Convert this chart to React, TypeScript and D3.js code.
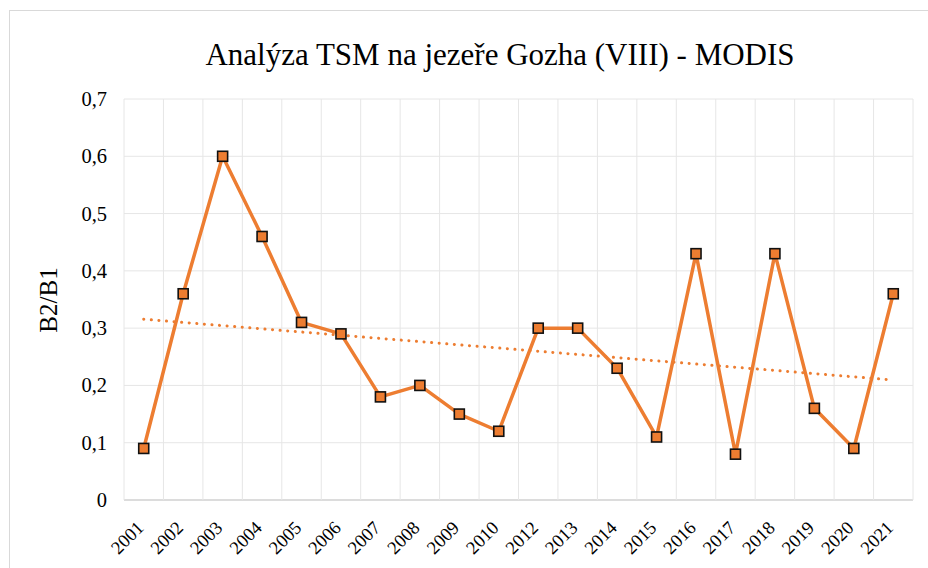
import React from "react";
import * as d3 from "d3";

const years = ["2001","2002","2003","2004","2005","2006","2007","2008","2009","2010","2012","2013","2014","2015","2016","2017","2018","2019","2020","2021"];
const values = [0.09,0.36,0.6,0.46,0.31,0.29,0.18,0.2,0.15,0.12,0.3,0.3,0.23,0.11,0.43,0.08,0.43,0.16,0.09,0.36];
const yTicks = [0,0.1,0.2,0.3,0.4,0.5,0.6,0.7];
const title = "Analýza TSM na jezeře Gozha (VIII) - MODIS";
const yLabel = "B2/B1";

const W = 928, H = 568;
const m = { left: 124, right: 913, top: 99, bottom: 500 };
const ORANGE = "#ED7D31";
const FONT = "'Liberation Serif', 'Times New Roman', serif";

export default function App() {
  const x = d3.scaleBand<string>().domain(years).range([m.left, m.right]);
  const y = d3.scaleLinear().domain([0, 0.7]).range([m.bottom, m.top]);
  const cx = (d: string) => (x(d) as number) + x.bandwidth() / 2;

  // linear trend (least squares on category index)
  const n = values.length;
  const idx = values.map((_, i) => i + 1);
  const mx = d3.mean(idx) as number;
  const my = d3.mean(values) as number;
  const slope = d3.sum(idx.map((v, i) => (v - mx) * (values[i] - my))) / d3.sum(idx.map(v => (v - mx) ** 2));
  const icpt = my - slope * mx;
  const t0 = icpt + slope * 1;
  const t1 = icpt + slope * n;

  const line = d3.line<number>().x((_, i) => cx(years[i])).y(d => y(d));
  const boundaries = years.map(d => x(d) as number).concat([m.right]);

  return (
    <svg width={W} height={H} style={{ position: "absolute", left: 0, top: 0 }}>
      <rect x={0} y={0} width={W} height={H} fill="#fff" />
      <rect x={9.5} y={10.5} width={W + 10} height={H + 10} fill="#fff" stroke="#d9d9d9" strokeWidth={1} />
      <text x={500} y={65} textAnchor="middle" fontFamily={FONT} fontSize={31} fill="#000">{title}</text>
      {/* grid */}
      {yTicks.map(t => (
        <line key={"h" + t} x1={m.left} x2={m.right} y1={y(t)} y2={y(t)} stroke={t === 0 ? "#d0d0d0" : "#e6e6e6"} strokeWidth={t === 0 ? 1.5 : 1} />
      ))}
      {boundaries.map((b, i) => (
        <line key={"v" + i} x1={b} x2={b} y1={m.top} y2={m.bottom} stroke="#e6e6e6" strokeWidth={1} />
      ))}
      {/* y tick labels */}
      {yTicks.map(t => (
        <text key={"yt" + t} x={107} y={y(t) + 7} textAnchor="end" fontFamily={FONT} fontSize={20.5} fill="#000">
          {t === 0 ? "0" : d3.format(".1f")(t).replace(".", ",")}
        </text>
      ))}
      <text transform={`translate(57,300) rotate(-90)`} textAnchor="middle" fontFamily={FONT} fontSize={25} fill="#000">{yLabel}</text>
      {/* x tick labels */}
      {years.map(d => (
        <text key={"xt" + d} transform={`translate(${cx(d) + 1},${m.bottom + 29}) rotate(-45)`} textAnchor="end" fontFamily={FONT} fontSize={18.5} fill="#000">{d}</text>
      ))}
      {/* trend */}
      <line x1={cx(years[0])} x2={cx(years[n - 1])} y1={y(t0)} y2={y(t1)} stroke={ORANGE} strokeWidth={3} strokeDasharray="0.1 7.5" strokeLinecap="round" />
      {/* series */}
      <path d={line(values) as string} fill="none" stroke={ORANGE} strokeWidth={3.5} strokeLinejoin="round" />
      {values.map((v, i) => (
        <rect key={"p" + i} x={cx(years[i]) - 5} y={y(v) - 5} width={10} height={10} fill={ORANGE} stroke="#111" strokeWidth={1.6} />
      ))}
    </svg>
  );
}
